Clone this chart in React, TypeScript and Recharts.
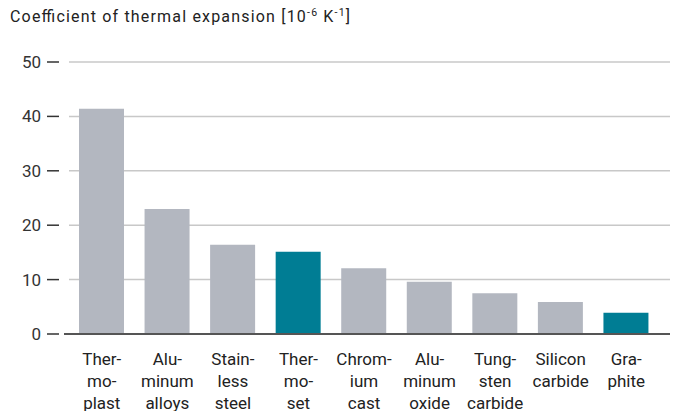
import React from "react";
import { BarChart, Bar, XAxis, YAxis, CartesianGrid, Cell } from "recharts";

const categories = [
  "Ther-\nmo-\nplast",
  "Alu-\nminum\nalloys",
  "Stain-\nless\nsteel",
  "Ther-\nmo-\nset",
  "Chrom-\nium\ncast",
  "Alu-\nminum\noxide",
  "Tung-\nsten\ncarbide",
  "Silicon\ncarbide",
  "Gra-\nphite",
];
const values = [41.4, 23.0, 16.4, 15.1, 12.1, 9.6, 7.5, 5.9, 3.9];
const highlighted = [false, false, false, true, false, false, false, false, true];
const yTicks = [0, 10, 20, 30, 40, 50];

const GRAY = "#b3b7c0";
const TEAL = "#007d94";
const FONT = "Roboto, 'Noto Sans', sans-serif";

const data = categories.map((c, i) => ({ name: c, value: values[i], hl: highlighted[i] }));

const YTick = (props: any) => {
  const { y, payload } = props;
  return (
    <g>
      <text x={41} y={y} dy={6} textAnchor="end" fontSize={17} fill="#333" fontFamily={FONT}>
        {payload.value}
      </text>
      <line x1={47} x2={59} y1={y} y2={y} stroke="#333" strokeWidth={1.5} />
      {payload.value === 0 && <line x1={64} x2={70} y1={y} y2={y} stroke="#555" strokeWidth={2} />}
    </g>
  );
};

const XTick = (props: any) => {
  const { x, payload } = props;
  const lines = String(payload.value).split("\n");
  return (
    <text x={x} y={365} textAnchor="middle" fontSize={17} fill="#222" fontFamily={FONT}>
      {lines.map((l, i) => (
        <tspan key={i} x={x} dy={i === 0 ? 0 : 22}>
          {l}
        </tspan>
      ))}
    </text>
  );
};

export default function App() {
  return (
    <div style={{ position: "absolute", left: 0, top: 0, width: 678, height: 411, background: "#fff" }}>
      <BarChart
        width={678}
        height={411}
        data={data}
        margin={{ top: 62, right: 8, bottom: 0, left: 0 }}
        barCategoryGap={0}
      >
        <text x={10} y={22} fontSize={16} fill="#222" fontFamily={FONT} textLength={340} lengthAdjust="spacing">
          Coefficient of thermal expansion [10
          <tspan dy={-6} fontSize={10.5}>-6</tspan>
          <tspan dy={6}> K</tspan>
          <tspan dy={-6} fontSize={10.5}>-1</tspan>
          <tspan dy={6}>]</tspan>
        </text>
        <CartesianGrid horizontal vertical={false} stroke="#c8c8c8" strokeWidth={1.5} />
        <XAxis
          dataKey="name"
          interval={0}
          height={77}
          tick={<XTick />}
          tickLine={false}
          axisLine={{ stroke: "#555", strokeWidth: 2 }}
          padding={{ left: 0, right: 11 }}
        />
        <YAxis
          width={69}
          domain={[0, 50]}
          ticks={yTicks}
          tick={<YTick />}
          tickLine={false}
          axisLine={false}
        />
        <Bar dataKey="value" barSize={45} isAnimationActive={false}>
          {data.map((d, i) => (
            <Cell key={i} fill={d.hl ? TEAL : GRAY} />
          ))}
        </Bar>
      </BarChart>
    </div>
  );
}
